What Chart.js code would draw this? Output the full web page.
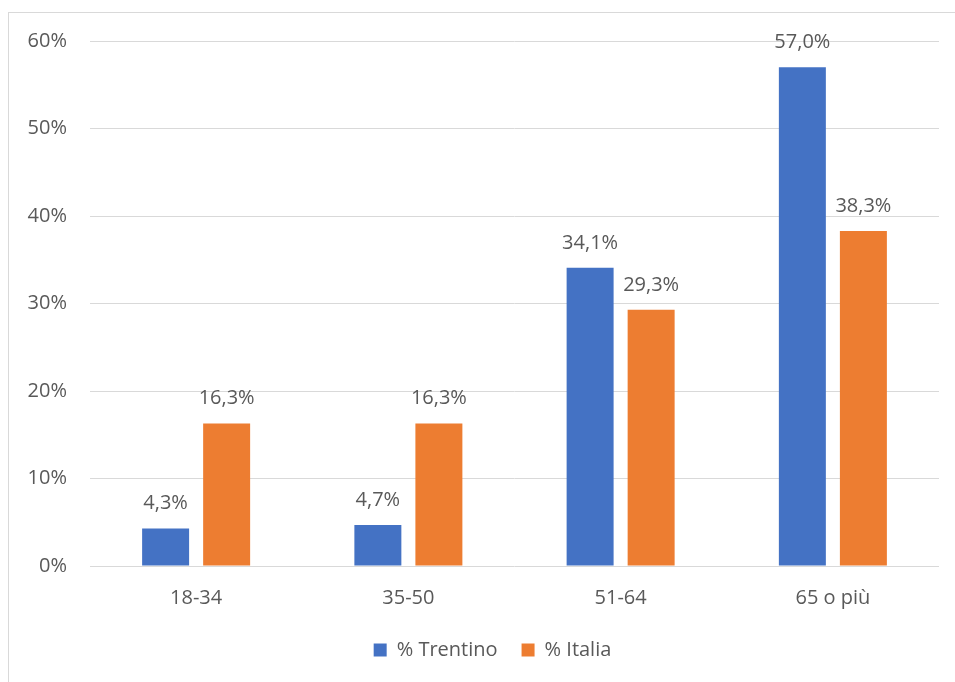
<!DOCTYPE html>
<html>
<head>
<meta charset="utf-8">
<script src="https://cdn.jsdelivr.net/npm/chart.js@4.4.1/dist/chart.umd.min.js"></script>
<style>
  html, body { margin: 0; padding: 0; background: #fff; }
  #wrap { position: relative; width: 955px; height: 682px; overflow: hidden; }
  #frame {
    position: absolute; left: 8px; top: 12px; width: 1000px; height: 1000px;
    border-left: 1px solid #d9d9d9; border-top: 1px solid #d9d9d9;
  }
  canvas { position: absolute; left: 0; top: 0; }
</style>
</head>
<body>
<div id="wrap">
  <div id="frame"></div>
  <canvas id="chart" width="955" height="682"></canvas>
</div>
<script>
// fasce d'età e quote percentuali
const categories = ['18-34', '35-50', '51-64', '65 o più'];
const trentino = [4.3, 4.7, 34.1, 57.0];
const italia = [16.3, 16.3, 29.3, 38.3];
const yTicks = [0, 10, 20, 30, 40, 50, 60];

const FONT = "'Open Sans', sans-serif";
const TEXT = '#595959';

// etichette con il valore sopra ogni barra
const valueLabels = {
  id: 'valueLabels',
  afterDatasetsDraw(chart) {
    const ctx = chart.ctx;
    ctx.save();
    ctx.font = '20px ' + FONT;
    ctx.fillStyle = TEXT;
    ctx.textAlign = 'center';
    ctx.textBaseline = 'alphabetic';
    chart.data.datasets.forEach((ds, i) => {
      chart.getDatasetMeta(i).data.forEach((bar, j) => {
        const txt = ds.data[j].toFixed(1).replace('.', ',') + '%';
        ctx.fillText(txt, bar.x, bar.y - 19);
      });
    });
    ctx.restore();
  }
};

// sposta la legenda un po' a destra
const legendShift = {
  id: 'legendShift',
  afterLayout(chart) {
    chart.legend.left += 23;
    chart.legend.right += 23;
  }
};

new Chart(document.getElementById('chart'), {
  type: 'bar',
  data: {
    labels: categories,
    datasets: [
      { label: '% Trentino', data: trentino, backgroundColor: '#4472c4' },
      { label: '% Italia', data: italia, backgroundColor: '#ed7d31' }
    ]
  },
  options: {
    responsive: false,
    animation: false,
    layout: { padding: { top: 41, right: 16, bottom: 12, left: 0 } },
    datasets: { bar: { categoryPercentage: 0.575, barPercentage: 0.77 } },
    scales: {
      x: {
        afterFit(scale) { scale.height -= 14; },
        grid: { display: false, drawTicks: false },
        border: { display: false },
        ticks: { color: TEXT, font: { family: FONT, size: 20 }, padding: 20 }
      },
      y: {
        min: 0, max: 60,
        afterBuildTicks(scale) { scale.ticks = yTicks.map(v => ({ value: v })); },
        afterFit(scale) { scale.width = 90; },
        grid: { color: '#d9d9d9', lineWidth: 1, drawTicks: false },
        border: { display: false },
        ticks: {
          color: TEXT, font: { family: FONT, size: 20 }, padding: 23,
          callback: v => v + '%'
        }
      }
    },
    plugins: {
      legend: {
        position: 'bottom',
        labels: {
          color: TEXT, font: { family: FONT, size: 20 },
          boxWidth: 13, boxHeight: 13, padding: 24
        }
      },
      tooltip: { enabled: false }
    }
  },
  plugins: [valueLabels, legendShift]
});
</script>
</body>
</html>
